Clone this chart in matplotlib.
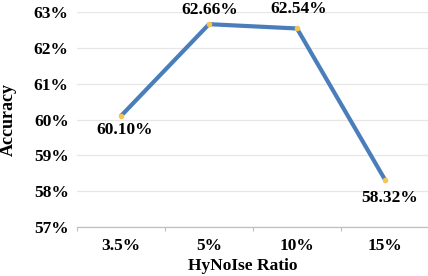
import matplotlib
matplotlib.use("Agg")
import matplotlib.pyplot as plt
from matplotlib.ticker import FuncFormatter, FixedLocator

categories = ["3.5%", "5%", "10%", "15%"]
accuracy = [60.10, 62.66, 62.54, 58.32]
label_texts = ["60.10%", "62.66%", "62.54%", "58.32%"]
yticks = [57, 58, 59, 60, 61, 62, 63]

plt.rcParams['font.family'] = ['Liberation Serif', 'DejaVu Serif']
plt.rcParams['font.weight'] = 'bold'

fig = plt.figure(figsize=(4.28, 2.76), dpi=100)
ax = fig.add_axes([77/428, 1-227/276, 352/428, 215/276])

x = list(range(len(categories)))
ax.plot(x, accuracy, color='#4A7EBB', lw=3.0, solid_capstyle='round',
        solid_joinstyle='round', marker='o', ms=3, mfc='#F2C45A',
        mec='#F2C45A', zorder=3)

offsets = [(2.7, -10.3), (0.5, 10.3), (1.2, 13.7), (3.2, -13.0)]
for xi, yi, t, off in zip(x, accuracy, label_texts, offsets):
    ax.annotate(t, (xi, yi), xytext=off, textcoords='offset points',
                ha='center', va='center', fontsize=12.5, fontweight='bold',
                color='black', annotation_clip=False)

ax.set_xlim(-0.5, 3.5)
ax.set_ylim(57, 63)
ax.set_yticks(yticks)
ax.yaxis.set_major_formatter(FuncFormatter(lambda v, p: f"{v:.0f}%"))
ax.set_xticks(x)
ax.set_xticklabels(categories)
ax.xaxis.set_minor_locator(FixedLocator([-0.5, 0.5, 1.5, 2.5, 3.5]))
ax.tick_params(axis='x', which='major', length=0, pad=8, labelsize=12.5)
ax.tick_params(axis='x', which='minor', length=3, color='#BFBFBF', width=0.8)
ax.tick_params(axis='y', length=0, pad=6, labelsize=12.5)
for lab in ax.get_xticklabels() + ax.get_yticklabels():
    lab.set_fontweight('bold')

ax.grid(axis='y', color='#E6E6E6', lw=0.9)
ax.set_axisbelow(True)
for s in ['top', 'right', 'left']:
    ax.spines[s].set_visible(False)
ax.spines['bottom'].set_color('#BFBFBF')
ax.spines['bottom'].set_linewidth(0.9)

ax.set_xlabel("HyNoIse Ratio", fontsize=12.5, fontweight='bold', labelpad=4)
ax.xaxis.set_label_coords((243-77)/352, -(258-227)/215, transform=ax.transAxes)
ax.xaxis.label.set_va('top')
ax.set_ylabel("Accuracy", fontsize=13, fontweight='bold')
ax.yaxis.set_label_coords(-(77-16.5)/352, 0.5)

fig.savefig("out.png", dpi=100)
